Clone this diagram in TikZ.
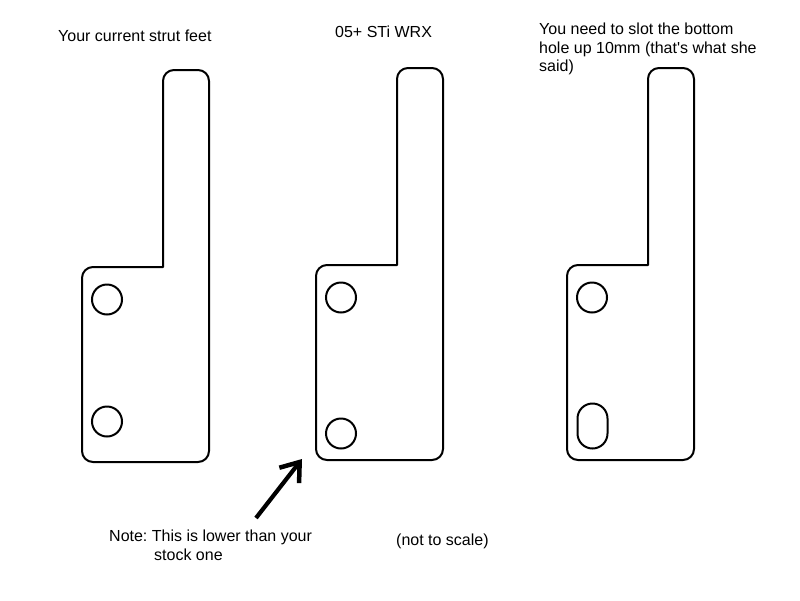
\documentclass[tikz,border=0pt]{standalone}
\usepackage{fontspec}
\setmainfont{Liberation Sans}
\usetikzlibrary{arrows.meta}
\tikzset{
  outline/.style={line width=2pt,black},
  hole/.style={circle,draw,line width=2pt,minimum size=30pt,inner sep=0pt},
  caption/.style={inner sep=0pt,font=\fontsize{16}{18.5}\selectfont\frenchspacing,align=left},
  pointer/.style={line width=4.2pt,-{Straight Barb[length=17pt,width=25pt,line width=4.5pt]}}
}
\newcommand{\strutfoot}[2]{
\draw[outline,line join=round,shift={(#1,#2)}] (163,267)
  [rounded corners=11pt] -- (163,70) -- (209,70) -- (209,462) -- (82,462) -- (82,267)
  [sharp corners] -- cycle;
}
\begin{document}
\begin{tikzpicture}[x=1pt,y=-1pt]
\useasboundingbox (0,0) rectangle (800,600);
\fill[white] (0,0) rectangle (800,600);
% the three feet
\strutfoot{0}{0}
\strutfoot{234}{-2}
\strutfoot{485}{-2}
% holes
\node[hole] (curTop) at (107,299.5) {};
\node[hole] (curBot) at (107,421.5) {};
\node[hole] (stiTop) at (341,297.5) {};
\node[hole] (stiBot) at (341,433.5) {};
\node[hole] (slotTop) at (592,297.5) {};
\node[draw,line width=2pt,minimum width=30pt,minimum height=45pt,inner sep=0pt,rounded corners=15pt] (slot) at (592.5,426) {};
% labels
\node[caption,anchor=west] (curLabel) at (58,35.5) {Your current strut feet};
\node[caption,anchor=west] (stiLabel) at (335,31.5) {05+ STi WRX};
\node[caption,anchor=north west] (slotLabel) at (539,23) {You need to slot the bottom\\hole up 10mm (that\textquotesingle s what she\\said)};
\node[caption,anchor=north west] (noteLabel) at (109,530) {Note: This is lower than your\\\hspace*{45pt}stock one};
\node[caption,anchor=west] (scaleLabel) at (396,541.5) {(not to scale)};
% arrow to the lower hole
\coordinate (noteTail) at (256,518);
\coordinate (noteTip) at (302,459);
\draw[pointer] (noteTail) -- (noteTip);
\end{tikzpicture}
\end{document}
